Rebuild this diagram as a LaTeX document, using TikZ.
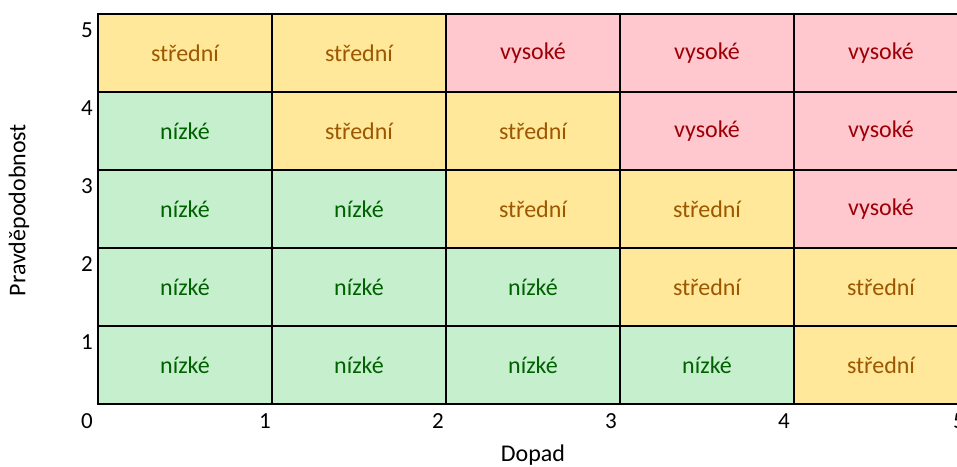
\documentclass[tikz,border=0pt]{standalone}
\usepackage{fontspec}
\setmainfont{Carlito}
\definecolor{lowfill}{HTML}{C6EFCE}
\definecolor{lowtext}{HTML}{006100}
\definecolor{midfill}{HTML}{FFE899}
\definecolor{midtext}{HTML}{9C5700}
\definecolor{highfill}{HTML}{FFC7CE}
\definecolor{hightext}{HTML}{9C0006}
\tikzset{
  cellbase/.style={draw=black,line width=2pt,minimum width=174pt,minimum height=78pt,inner sep=0pt,anchor=center,font=\fontsize{24}{28}\selectfont},
  lowcell/.style={cellbase,fill=lowfill,text=lowtext},
  midcell/.style={cellbase,fill=midfill,text=midtext},
  highcell/.style={cellbase,fill=highfill,text=hightext},
  ticklbl/.style={font=\fontsize{23}{27}\selectfont,text=black,inner sep=0pt},
  axtitle/.style={font=\fontsize{24}{28}\selectfont,text=black,inner sep=0pt}
}
\begin{document}
\begin{tikzpicture}[x=1pt,y=-1pt]
\useasboundingbox (0,0) rectangle (957,466);
\begin{scope}
\clip (0,0) rectangle (957,466);
% row 5
\node[midcell]  (c15) at (185,53) {střední};
\node[midcell]  (c25) at (359,53) {střední};
\node[highcell] (c35) at (533,53) {vysoké};
\node[highcell] (c45) at (707,53) {vysoké};
\node[highcell] (c55) at (881,53) {vysoké};
% row 4
\node[lowcell]  (c14) at (185,131) {nízké};
\node[midcell]  (c24) at (359,131) {střední};
\node[midcell]  (c34) at (533,131) {střední};
\node[highcell] (c44) at (707,131) {vysoké};
\node[highcell] (c54) at (881,131) {vysoké};
% row 3
\node[lowcell]  (c13) at (185,209) {nízké};
\node[lowcell]  (c23) at (359,209) {nízké};
\node[midcell]  (c33) at (533,209) {střední};
\node[midcell]  (c43) at (707,209) {střední};
\node[highcell] (c53) at (881,209) {vysoké};
% row 2
\node[lowcell]  (c12) at (185,287) {nízké};
\node[lowcell]  (c22) at (359,287) {nízké};
\node[lowcell]  (c32) at (533,287) {nízké};
\node[midcell]  (c42) at (707,287) {střední};
\node[midcell]  (c52) at (881,287) {střední};
% row 1
\node[lowcell]  (c11) at (185,365) {nízké};
\node[lowcell]  (c21) at (359,365) {nízké};
\node[lowcell]  (c31) at (533,365) {nízké};
\node[lowcell]  (c41) at (707,365) {nízké};
\node[midcell]  (c51) at (881,365) {střední};
% tick labels
\node[ticklbl,anchor=east] (y5) at (93,30) {5};
\node[ticklbl,anchor=east] (y4) at (93,108) {4};
\node[ticklbl,anchor=east] (y3) at (93,186) {3};
\node[ticklbl,anchor=east] (y2) at (93,264) {2};
\node[ticklbl,anchor=east] (y1) at (93,342) {1};
\node[ticklbl] (x0) at (87,421) {0};
\node[ticklbl] (x1) at (265,421) {1};
\node[ticklbl] (x2) at (438,421) {2};
\node[ticklbl] (x3) at (611,421) {3};
\node[ticklbl] (x4) at (784,421) {4};
\node[ticklbl] (x5) at (959,421) {5};
\end{scope}
\node[axtitle,rotate=90] (ytitle) at (19,210) {Pravděpodobnost};
\node[axtitle] (xtitle) at (533,455) {Dopad};
\end{tikzpicture}
\end{document}
